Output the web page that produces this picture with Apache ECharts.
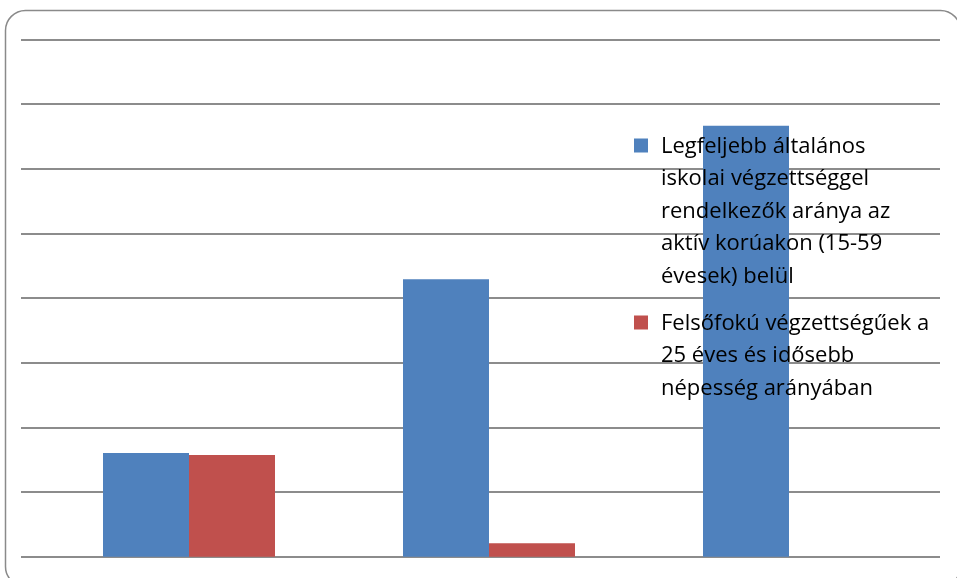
<!DOCTYPE html>
<html>
<head>
<meta charset="utf-8">
<script src="https://cdn.jsdelivr.net/npm/echarts@6/dist/echarts.min.js"></script>
<style>
html,body{margin:0;padding:0;background:#fff;}
#chart{width:957px;height:578px;}
</style>
</head>
<body>
<div id="chart"></div>
<script>
var categories = ['1', '2', '3'];
var seriesNames = [
  'Legfeljebb általános\niskolai végzettséggel\nrendelkezők aránya az\naktív korúakon (15-59\névesek) belül',
  'Felsőfokú végzettségűek a\n25 éves és idősebb\nnépesség arányában'
];
var lowEduValues = [8.02, 21.45, 33.33];
var highEduValues = [7.87, 1.04, null];
var yMin = 0, yMax = 40, yInterval = 5;

var chart = echarts.init(document.getElementById('chart'), null, {renderer: 'canvas'});
var LH = 32.4;
var font = 'Open Sans';
var fs = 22;
function iconPath(h) {
  return 'path://M0,8h14v14h-14z M0,0L22,0 M0,' + h + 'L22,' + h;
}
var option = {
  animation: false,
  backgroundColor: '#ffffff',
  graphic: [{
    type: 'rect', z: 100, silent: true,
    shape: {x: 5.5, y: 10.5, width: 955, height: 576, r: 20},
    style: {fill: 'none', stroke: '#8a8a8a', lineWidth: 1.5}
  }],
  grid: [
    {left: 21, right: 17, top: 39.5, bottom: 21.3},
    {left: 39, right: 18, top: 39.5, bottom: 21.3}
  ],
  xAxis: [
    {gridIndex: 0, type: 'value', min: 0, max: 1, show: false},
    {gridIndex: 1, type: 'category', data: categories,
     axisLine: {show: false}, axisTick: {show: false}, axisLabel: {show: false}, splitLine: {show: false}}
  ],
  yAxis: [
    {gridIndex: 0, type: 'value', min: yMin, max: yMax, interval: yInterval,
     axisLine: {show: false}, axisTick: {show: false}, axisLabel: {show: false},
     splitLine: {show: true, lineStyle: {color: '#8c8c8c', width: 2}}},
    {gridIndex: 1, type: 'value', min: yMin, max: yMax, interval: yInterval,
     axisLine: {show: false}, axisTick: {show: false}, axisLabel: {show: false},
     splitLine: {show: false}}
  ],
  legend: [
    {data: [{name: seriesNames[0], icon: iconPath(LH * 5)}],
     orient: 'vertical', left: 634, top: 130.5, padding: 0,
     itemWidth: 22, itemHeight: LH * 5, selectedMode: false,
     textStyle: {fontFamily: font, fontSize: fs, lineHeight: LH, color: '#000'}},
    {data: [{name: seriesNames[1], icon: iconPath(LH * 3)}],
     orient: 'vertical', left: 634, top: 307.5, padding: 0,
     itemWidth: 22, itemHeight: LH * 3, selectedMode: false,
     textStyle: {fontFamily: font, fontSize: fs, lineHeight: LH, color: '#000'}}
  ],
  series: [
    {name: seriesNames[0], type: 'bar', xAxisIndex: 1, yAxisIndex: 1,
     data: lowEduValues, barWidth: 86, barGap: '0%',
     itemStyle: {color: '#4F81BD'}},
    {name: seriesNames[1], type: 'bar', xAxisIndex: 1, yAxisIndex: 1,
     data: highEduValues, barWidth: 86, barGap: '0%',
     itemStyle: {color: '#C0504D'}}
  ]
};
chart.setOption(option);
</script>
</body>
</html>
